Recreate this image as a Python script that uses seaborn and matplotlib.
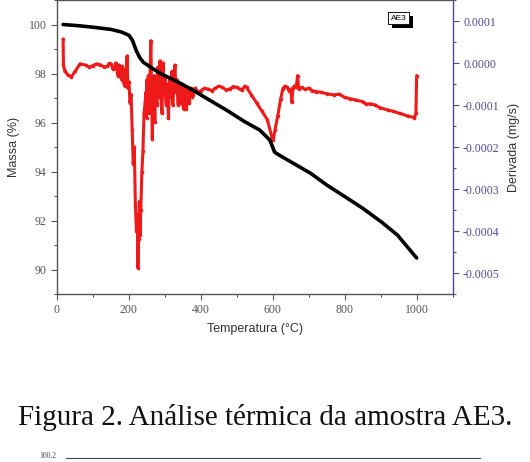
import numpy as np
import pandas as pd
import matplotlib
matplotlib.use("Agg")
import matplotlib.pyplot as plt
import matplotlib.patheffects as pe
from matplotlib.ticker import MultipleLocator, FuncFormatter
import seaborn as sns

# TG curve (massa, %)
temp_tg = [17, 60, 100, 150, 180, 200, 210, 220, 230, 240, 260, 286, 330, 378,
           420, 472, 520, 564, 592, 605, 620, 705, 750, 803, 850, 903, 947, 1000]
massa = [100.0, 99.95, 99.89, 99.80, 99.69, 99.56, 99.35, 98.95, 98.65, 98.46,
         98.26, 98.01, 97.70, 97.32, 96.95, 96.50, 96.05, 95.69, 95.28, 94.79,
         94.65, 93.93, 93.45, 92.95, 92.50, 91.93, 91.40, 90.47]

# DTG curve (derivada, in units of 1e-4 mg/s)
temp_dtg = [17, 18, 22, 30, 40, 50, 64, 80, 90, 100, 110, 120, 130, 140, 145, 150,
            155, 160, 163, 165, 168, 170, 173, 175, 178, 180, 182, 184, 186, 188,
            190, 192, 195, 197, 200, 203, 206, 209, 212, 215, 218, 221, 223, 225,
            227, 229, 231, 233, 236, 239, 242, 245, 247, 249, 250, 252, 253, 254,
            256, 257, 258, 261, 263, 264, 265, 267, 268, 270, 272, 273, 275, 278,
            279, 280, 283, 284, 286, 289, 290, 292, 295, 296, 298, 301, 302, 304,
            307, 308, 310, 313, 314, 316, 319, 320, 322, 325, 326, 328, 331, 332,
            334, 337, 338, 340, 342, 344, 346, 348, 350, 352, 354, 356, 358, 360,
            362, 364, 366, 368, 370, 372, 375, 378, 382, 385, 392, 400, 410, 420,
            430, 440, 450, 460, 470, 480, 490, 500, 508, 515, 522, 527, 540, 555,
            570, 585, 597, 601, 606, 614, 622, 628, 634, 640, 645, 650, 653, 656,
            660, 665, 669, 672, 680, 690, 700, 710, 720, 735, 750, 770, 785, 800,
            815, 830, 850, 860, 870, 885, 897, 920, 935, 953, 975, 994, 998, 1000]
deriv_e4 = [0.57, -0.05, -0.20, -0.28, -0.33, -0.20, -0.02, -0.05, -0.10, -0.06,
            -0.02, -0.04, -0.09, -0.08, -0.01, -0.02, -0.14, -0.12, 0.00, -0.05,
            -0.22, -0.30, -0.05, -0.10, -0.35, -0.40, -0.08, -0.15, -0.48, -0.55,
            -0.20, -0.30, 0.17, -0.60, -0.45, -0.95, -0.75, -1.60, -2.40, -2.00,
            -3.40, -4.00, -3.60, -4.88, -4.20, -3.30, -4.10, -3.50, -2.60, -2.10,
            -1.20, -0.95, -0.70, -1.30, -0.40, -1.00, -0.55, -0.30, -1.20, -0.70,
            -0.50, 0.53, -0.60, -1.10, -1.80, -0.90, -0.45, -0.30, -1.40, -0.80,
            -0.50, -1.00, -0.35, -0.10, -0.80, -0.40, 0.05, -0.60, -0.95, -1.20,
            0.00, -0.55, -0.70, -0.30, -0.85, -1.00, -0.50, -0.90, -1.32, -0.40,
            -0.75, -0.80, -0.20, -0.65, -1.00, -0.60, -0.30, -0.05, -0.70, -0.45,
            -0.40, -1.00, -0.60, -0.50, -0.95, -0.90, -0.55, -0.50, -1.00, -1.10,
            -0.70, -0.60, -1.00, -1.10, -0.65, -0.70, -0.95, -0.90, -0.62, -0.60,
            -0.80, -0.75, -0.62, -0.60, -0.70, -0.66, -0.60, -0.62, -0.66, -0.60,
            -0.55, -0.58, -0.64, -0.62, -0.56, -0.58, -0.62, -0.64, -0.55, -0.58,
            -0.75, -0.95, -1.15, -1.35, -1.75, -1.84, -1.60, -1.25, -0.85, -0.61,
            -0.55, -0.58, -0.66, -0.62, -0.94, -0.60, -0.55, -0.58, -0.30, -0.62,
            -0.58, -0.63, -0.60, -0.66, -0.68, -0.70, -0.73, -0.76, -0.74, -0.82,
            -0.85, -0.88, -0.92, -0.98, -0.97, -1.00, -1.06, -1.12, -1.15, -1.20,
            -1.26, -1.30, -1.20, -0.30]

left_ticks = [90, 92, 94, 96, 98, 100]
right_ticks = [-0.0005, -0.0004, -0.0003, -0.0002, -0.0001, 0.0, 0.0001]
x_ticks = [0, 200, 400, 600, 800, 1000]

tg = pd.DataFrame({"temp": temp_tg, "massa": massa})
dtg = pd.DataFrame({"temp": temp_dtg, "deriv": np.array(deriv_e4) * 1e-4})

sns.set_style("ticks")
plt.rcParams["font.family"] = ["Liberation Serif", "DejaVu Serif"]

fig = plt.figure(figsize=(5.30, 4.62), dpi=100)
ax = fig.add_axes([0.1075, 0.3636, 0.7465, 0.6364])
ax2 = ax.twinx()

sns.lineplot(data=tg, x="temp", y="massa", ax=ax, color="black", linewidth=2.6)
sns.lineplot(data=dtg, x="temp", y="deriv", ax=ax2, color="#ee1a1a", linewidth=2.2,
             marker="o", markersize=2.6, markeredgewidth=0)
ax2.set_zorder(0)
ax.set_zorder(1)
ax.patch.set_visible(False)

grey = "#555555"
blue = "#4a4a96"
ax.set_xlim(0, 1100)
ax.set_ylim(89, 101)
ax2.set_ylim(-0.00055, 0.00015)
ax.set_xticks(x_ticks)
ax.xaxis.set_minor_locator(MultipleLocator(100))
ax.set_yticks(left_ticks)
ax.yaxis.set_minor_locator(MultipleLocator(1))
ax2.set_yticks(right_ticks)
ax2.yaxis.set_minor_locator(MultipleLocator(0.00005))
ax2.yaxis.set_major_formatter(FuncFormatter(lambda v, p: f"{v:.4f}".replace("-0.0000", "0.0000")))

ax.tick_params(axis="both", which="major", length=4, width=0.8, colors=grey, labelsize=8.5)
ax.tick_params(axis="both", which="minor", length=2.5, width=0.8, colors=grey)
ax.tick_params(axis="x", top=True, which="both", direction="out")
ax2.tick_params(axis="y", which="major", length=4, width=0.8, colors=blue, labelsize=8.5)
ax2.tick_params(axis="y", which="minor", length=2.5, width=0.8, colors=blue)

for s in ["left", "bottom", "top"]:
    ax.spines[s].set_visible(True)
    ax.spines[s].set_color(grey)
    ax.spines[s].set_linewidth(1.0)
ax.spines["right"].set_visible(False)
for s in ["left", "bottom", "top"]:
    ax2.spines[s].set_visible(False)
ax2.spines["right"].set_visible(True)
ax2.spines["right"].set_color(blue)
ax2.spines["right"].set_linewidth(1.0)

sans = ["Liberation Sans", "DejaVu Sans"]
ax.set_xlabel("Temperatura (°C)", family=sans, fontsize=9, color="#333333", labelpad=5)
ax.set_ylabel("Massa (%)", family=sans, fontsize=9, color="#333333", labelpad=6)
ax2.set_ylabel("Derivada (mg/s)", family=sans, fontsize=9, color="#333333", labelpad=6)

t = ax.text(950, 100.25, "AE3", family=sans, fontsize=6, color="black", ha="center", va="center",
            bbox=dict(boxstyle="square,pad=0.3", facecolor="white", edgecolor="black", linewidth=0.6))
t.get_bbox_patch().set_path_effects([pe.withSimplePatchShadow(offset=(2.5, -2.5), shadow_rgbFace="black", alpha=1.0), pe.Normal()])

fig.text(0.5, 0.097, "Figura 2. Análise térmica da amostra AE3.", ha="center", va="center",
         fontsize=21, color="#111111")
fig.text(0.075, 0.012, "100.2", ha="left", va="center", fontsize=5.5, color="#444444")
fig.add_artist(plt.Line2D([0.125, 0.905], [0.008, 0.008], color="#444444", linewidth=0.8))

fig.savefig("out.png", dpi=100)
